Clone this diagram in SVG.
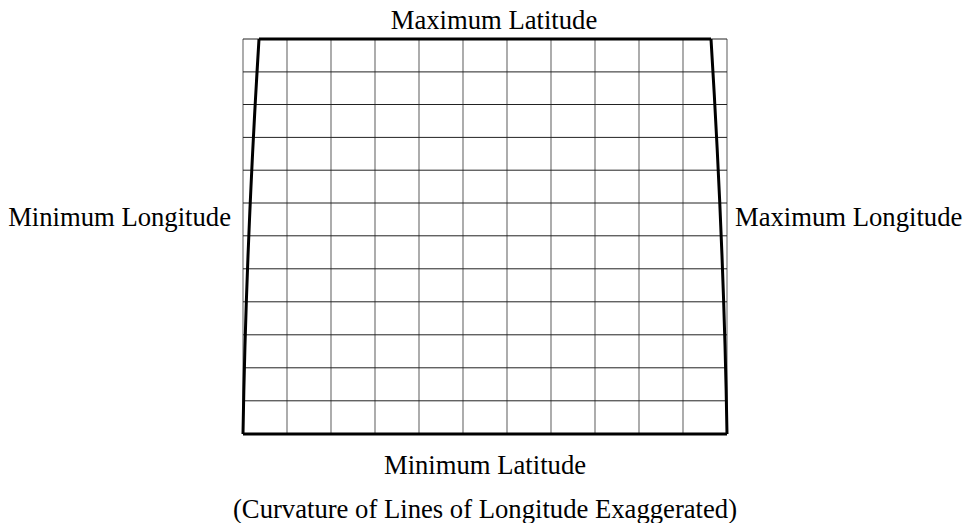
<svg xmlns="http://www.w3.org/2000/svg" width="963" height="523" viewBox="0 0 963 523">
<style>
text{font-family:'Liberation Serif','Times New Roman',serif;font-size:26.67px;fill:#000}
.v{stroke:#808080;stroke-width:1.3;fill:none}
.h{stroke:#222;stroke-width:1;fill:none}
.b{stroke:#000;stroke-width:3;fill:none}
</style>
<rect width="963" height="523" fill="#fff"/>
<g id="grid">
<g id="vertical-lines">
<line class="v" x1="243" y1="39" x2="243" y2="434"/>
<line class="v" x1="287" y1="39" x2="287" y2="434"/>
<line class="v" x1="331" y1="39" x2="331" y2="434"/>
<line class="v" x1="375" y1="39" x2="375" y2="434"/>
<line class="v" x1="419" y1="39" x2="419" y2="434"/>
<line class="v" x1="463" y1="39" x2="463" y2="434"/>
<line class="v" x1="507" y1="39" x2="507" y2="434"/>
<line class="v" x1="551" y1="39" x2="551" y2="434"/>
<line class="v" x1="595" y1="39" x2="595" y2="434"/>
<line class="v" x1="639" y1="39" x2="639" y2="434"/>
<line class="v" x1="683" y1="39" x2="683" y2="434"/>
<line class="v" x1="727" y1="39" x2="727" y2="434"/>
</g>
<g id="horizontal-lines">
<line class="h" x1="243" y1="39" x2="727" y2="39"/>
<line class="h" x1="243" y1="71.9" x2="727" y2="71.9"/>
<line class="h" x1="243" y1="104.5" x2="727" y2="104.5"/>
<line class="h" x1="243" y1="137.4" x2="727" y2="137.4"/>
<line class="h" x1="243" y1="170.2" x2="727" y2="170.2"/>
<line class="h" x1="243" y1="203" x2="727" y2="203"/>
<line class="h" x1="243" y1="235.8" x2="727" y2="235.8"/>
<line class="h" x1="243" y1="268.8" x2="727" y2="268.8"/>
<line class="h" x1="243" y1="301.8" x2="727" y2="301.8"/>
<line class="h" x1="243" y1="334.8" x2="727" y2="334.8"/>
<line class="h" x1="243" y1="367.8" x2="727" y2="367.8"/>
<line class="h" x1="243" y1="400.8" x2="727" y2="400.8"/>
</g>
</g>
<g id="boundary">
<line class="b" x1="259" y1="39" x2="711" y2="39"/>
<line class="b" x1="243" y1="434" x2="727" y2="434"/>
<path class="b" d="M259,39 Q246,250 243,434"/>
<path class="b" d="M711,39 Q724,250 727,434"/>
</g>
<g id="labels">
<text x="494" y="29" text-anchor="middle">Maximum Latitude</text>
<text x="231" y="226" text-anchor="end">Minimum Longitude</text>
<text x="735" y="226">Maximum Longitude</text>
<text x="485" y="474" text-anchor="middle">Minimum Latitude</text>
<text x="485" y="518" text-anchor="middle">(Curvature of Lines of Longitude Exaggerated)</text>
</g>
</svg>
